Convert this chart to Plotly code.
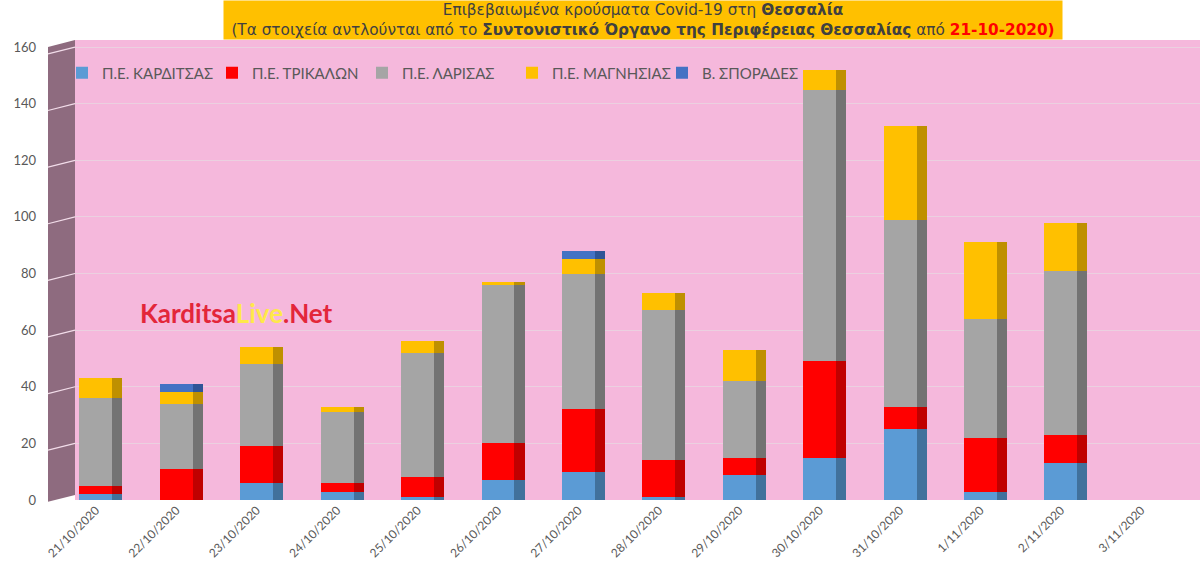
import numpy as np
import plotly.graph_objects as go

# confirmed cases per regional unit (Thessaly)
dates = ["21/10/2020", "22/10/2020", "23/10/2020", "24/10/2020", "25/10/2020",
         "26/10/2020", "27/10/2020", "28/10/2020", "29/10/2020", "30/10/2020",
         "31/10/2020", "1/11/2020", "2/11/2020", "3/11/2020"]
karditsa = [2, 0, 6, 3, 1, 7, 10, 1, 9, 15, 25, 3, 13, 0]
trikala = [3, 11, 13, 3, 7, 13, 22, 13, 6, 34, 8, 19, 10, 0]
larisa = [31, 23, 29, 25, 44, 56, 48, 53, 27, 96, 66, 42, 58, 0]
magnesia = [7, 4, 6, 2, 4, 1, 5, 6, 11, 7, 33, 27, 17, 0]
sporades = [0, 3, 0, 0, 0, 0, 3, 0, 0, 0, 0, 0, 0, 0]
y_ticks = [0, 20, 40, 60, 80, 100, 120, 140, 160]

names = ["Π.Ε. ΚΑΡΔΙΤΣΑΣ", "Π.Ε. ΤΡΙΚΑΛΩΝ", "Π.Ε. ΛΑΡΙΣΑΣ", "Π.Ε. ΜΑΓΝΗΣΙΑΣ", "Β. ΣΠΟΡΑΔΕΣ"]
front_colors = ["#5B9BD5", "#FF0000", "#A5A5A5", "#FFC000", "#4472C4"]
side_colors = ["#41719C", "#C00000", "#737373", "#BF9000", "#2F5597"]

series = [karditsa, trikala, larisa, magnesia, sporades]
bases = np.vstack([np.zeros(len(dates))] + [np.array(s) for s in series]).cumsum(axis=0)[:-1]

font_main = "Lato, Carlito, Open Sans, sans-serif"

fig = go.Figure()

# darker right-hand faces, a fake 3d look
for vals, base, col in zip(series, bases, side_colors):
    fig.add_trace(go.Bar(x=dates, y=vals, base=base, marker_color=col, marker_line_width=0,
                         offset=0.2, width=0.13, showlegend=False, hoverinfo="skip"))

for vals, base, col, name in zip(series, bases, front_colors, names):
    fig.add_trace(go.Bar(x=dates, y=vals, base=base, name=name, marker_color=col,
                         marker_line_width=0, offset=-0.205, width=0.41))

# side wall on the left, with its grid lines
fig.add_shape(type="path", xref="paper", yref="paper", layer="below",
              path="M -0.024,-0.004 L 0,0.011 L 0,1 L -0.024,0.985 Z",
              fillcolor="#8E6B7F", line_width=0)
for v in y_ticks[1:]:
    fig.add_shape(type="line", xref="paper", yref="y", x0=-0.024, x1=0, y0=v - 2.4, y1=v,
                  line=dict(color="#F3DDEA", width=1.2))

title = ("Επιβεβαιωμένα κρούσματα Covid-19 στη <b>Θεσσαλία</b><br>"
         "(Τα στοιχεία αντλούνται από το <b>Συντονιστικό Όργανο της Περιφέρειας Θεσσαλίας</b> από "
         "<b><span style='color:#FF0000'>21-10-2020)</span></b>")
fig.add_annotation(text=title, xref="paper", yref="paper", x=0.5049, y=1.087,
                   xanchor="center", yanchor="top", showarrow=False, align="center",
                   bgcolor="#FFC000", width=838, height=38, borderpad=0,
                   font=dict(family="DejaVu Sans, Verdana, sans-serif", size=15.3, color="#404040"))

fig.add_annotation(text="<b>Karditsa<span style='color:#FFE84A'>Live</span>.Net</b>",
                   xref="paper", yref="paper", x=0.056, y=0.406, xanchor="left", yanchor="middle",
                   showarrow=False, font=dict(family=font_main, size=26, color="#E3263A"))

fig.update_layout(
    width=1200, height=577,
    margin=dict(l=75, r=0, t=40, b=77),
    barmode="overlay",
    paper_bgcolor="white",
    plot_bgcolor="#F5B8DC",
    font=dict(family=font_main, size=13, color="#595959"),
    legend=dict(orientation="h", x=0, y=0.928, xanchor="left", yanchor="middle",
                bgcolor="rgba(0,0,0,0)", font=dict(size=15, color="#595959"),
                traceorder="normal", entrywidth=118, entrywidthmode="pixels",
                indentation=-13),
    bargap=0,
)
fig.update_xaxes(type="category", range=[-0.26, 13.73], tickangle=-45, showgrid=False,
                 tickfont=dict(size=12, color="#595959"), showline=False, zeroline=False)
fig.update_yaxes(range=[0, 162.5], tickvals=y_ticks,
                 gridcolor="#EBD0E0", gridwidth=1, zeroline=False, showline=False,
                 ticklabelstandoff=38, tickfont=dict(size=13, color="#595959"))

fig.write_html("out.html", config={"displayModeBar": False},
               post_script="document.body.style.margin='0';")
